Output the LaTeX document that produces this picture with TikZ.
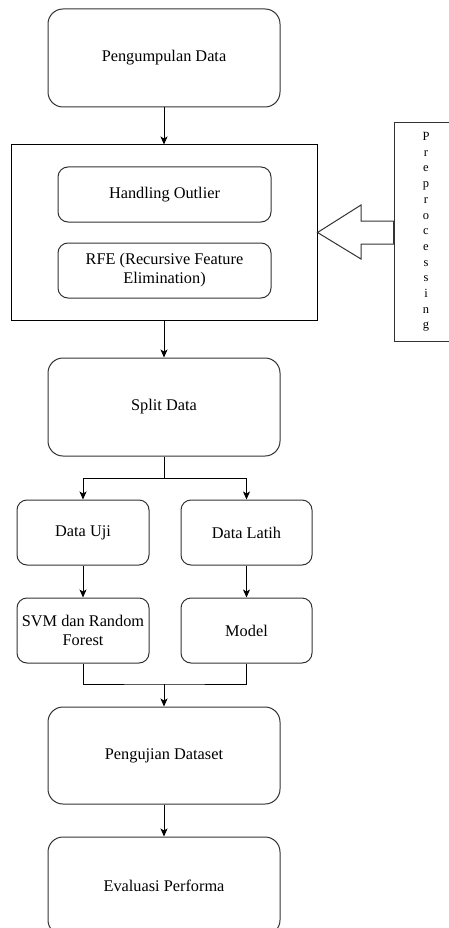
\documentclass[tikz,border=0pt]{standalone}
\usepackage{fontspec}
\setmainfont{Liberation Serif}
\usetikzlibrary{arrows.meta}
\definecolor{edge}{HTML}{333333}
\begin{document}
\begin{tikzpicture}[x=1pt,y=-1pt,
  base/.style={draw=edge,line width=1pt,align=center,inner sep=0pt,
    font=\fontsize{16.3}{19}\selectfont,fill=white},
  bigbox/.style={base,rounded corners=15pt,minimum width=232pt,minimum height=98pt},
  smallbox/.style={base,rounded corners=10pt,minimum height=65pt},
  innerbox/.style={base,rounded corners=10pt,minimum width=213pt,minimum height=55pt},
  arr/.style={-{Stealth[length=8pt,width=7pt,inset=2pt]},line width=1pt,black},
  ln/.style={line width=1pt,black}]
\useasboundingbox (0,0) rectangle (449,928);
\fill[white] (0,0) rectangle (449,928);

\node[bigbox] (pd) at (164,58) {Pengumpulan Data};
\node[draw=black,line width=1pt,minimum width=306pt,minimum height=175pt,inner sep=0pt] (outer) at (164,232.5) {};
\node[innerbox] (ho) at (164.5,194.5) {Handling Outlier};
\node[innerbox] (rfe) at (164.5,270.5) {RFE (Recursive Feature\\Elimination)};
\node[draw=edge,line width=1pt,minimum width=64pt,minimum height=218pt,inner sep=0pt,align=center,
  font=\fontsize{12.5}{15.7}\selectfont] (pre) at (426,232)
  {P\\r\\e\\p\\r\\o\\c\\e\\s\\s\\i\\n\\g};

\node[bigbox] (split) at (164,407) {Split Data};
\node[smallbox,minimum width=132pt] (uji) at (83,532.5) {Data Uji};
\node[smallbox,minimum width=131pt] (latih) at (246.5,532.5) {Data Latih};
\node[smallbox,minimum width=132pt] (svm) at (83,630.5) {SVM dan Random\\Forest};
\node[smallbox,minimum width=131pt] (model) at (246.5,630.5) {Model};
\node[bigbox,minimum height=97pt] (peng) at (164,755.5) {Pengujian Dataset};
\node[bigbox] (eval) at (164,886) {Evaluasi Performa};

\coordinate (fork) at (164,478);
\coordinate (merge) at (164,684);

\draw[arr] (pd.south) -- (outer.north);
\draw[arr] (outer.south) -- (split.north);
\draw[ln] (split.south) -- (fork);
\draw[arr] (fork) -| (uji.north);
\draw[arr] (fork) -| (latih.north);
\draw[arr] (uji.south) -- (svm.north);
\draw[arr] (latih.south) -- (model.north);
\draw[ln] (svm.south) |- (merge) -| (model.south);
\draw[arr] (merge) -- (peng.north);
\draw[arr] (peng.south) -- (eval.north);

% block arrow from Preprocessing to the outer box
\draw[draw=edge,line width=1pt,fill=white]
  (outer.east) -- (361,205) -- (361,221) -- (pre.west |- 0,221)
  -- (pre.west |- 0,244) -- (361,244) -- (361,259) -- cycle;
\end{tikzpicture}
\end{document}
